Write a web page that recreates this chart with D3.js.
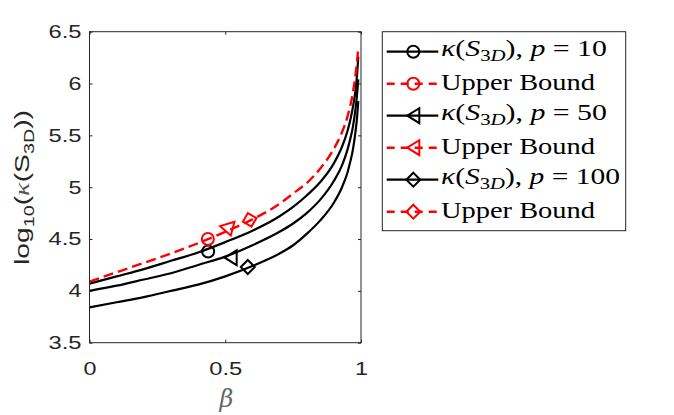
<!DOCTYPE html>
<html>
<head>
<meta charset="utf-8">
<script src="https://cdn.jsdelivr.net/npm/d3@7"></script>
<style>
  body { margin: 0; background: #fff; }
  svg { display: block; }
</style>
</head>
<body>
<div id="chart"></div>
<script>
// values
const beta = [0, 0.1, 0.2, 0.3, 0.4, 0.5, 0.6, 0.7, 0.75, 0.8, 0.85, 0.9, 0.93, 0.95, 0.96, 0.97, 0.98, 0.985, 0.99];
const kappaP10 = [4.07, 4.14, 4.21, 4.29, 4.37, 4.47, 4.58, 4.72, 4.81, 4.92, 5.05, 5.23, 5.39, 5.54, 5.64, 5.77, 5.94, 6.07, 6.26];
const kappaP50 = [4.00, 4.05, 4.11, 4.17, 4.25, 4.33, 4.44, 4.57, 4.65, 4.75, 4.88, 5.06, 5.21, 5.36, 5.46, 5.58, 5.76, 5.88, 6.04];
const kappaP100 = [3.84, 3.89, 3.94, 4.00, 4.06, 4.14, 4.24, 4.36, 4.44, 4.55, 4.68, 4.85, 5.00, 5.14, 5.24, 5.36, 5.54, 5.66, 5.83];
const upperBound = [4.09, 4.18, 4.27, 4.36, 4.46, 4.57, 4.69, 4.84, 4.94, 5.04, 5.18, 5.37, 5.53, 5.68, 5.78, 5.91, 6.09, 6.20, 6.35];

// the single marker drawn on each curve
const markerShapes = ['circle', 'left', 'diamond'];
const kappaMarkerBeta = [0.437, 0.52, 0.583];
const kappaMarkerValue = [4.38, 4.32, 4.23];
const boundMarkerBeta = [0.436, 0.514, 0.59];
const boundMarkerValue = [4.50, 4.59, 4.685];
const boundMarkerTurn = [0, -107, -15];

const xTicks = [0, 0.5, 1];
const yTicks = [3.5, 4, 4.5, 5, 5.5, 6, 6.5];
const pValues = [10, 50, 100];

const W = 674, H = 415;
const axisColor = '#262626';

let svg = d3.select('#chart').append('svg')
    .attr('width', W)
    .attr('height', H);

svg.append('rect').attr('width', W).attr('height', H).attr('fill', '#fff');

let x = d3.scaleLinear().domain([0, 1]).range([89.5, 361]);
let y = d3.scaleLinear().domain([3.5, 6.5]).range([342.7, 31.7]);

let plot = svg.append('g');

let line = d3.line()
    .x(d => x(d[0]))
    .y(d => y(d[1]))
    .curve(d3.curveMonotoneX);

[kappaP10, kappaP50, kappaP100].forEach(vals => {
    plot.append('path')
        .datum(beta.map((b, i) => [b, vals[i]]))
        .attr('d', line)
        .attr('fill', 'none')
        .attr('stroke', '#000')
        .attr('stroke-width', 2.2);
});

plot.append('path')
    .datum(beta.map((b, i) => [b, upperBound[i]]))
    .attr('d', line)
    .attr('fill', 'none')
    .attr('stroke', '#ff0000')
    .attr('stroke-width', 2.4)
    .attr('stroke-dasharray', '10,5');

function markerPath (shape) {
    if (shape == 'circle') return d3.symbol(d3.symbolCircle, Math.PI * 36)();
    if (shape == 'left') return 'M-6,0L6,-7.5L6,7.5Z';
    return 'M0,-7L7,0L0,7L-7,0Z';
}

markerShapes.forEach((shape, i) => {
    plot.append('path')
        .attr('d', markerPath(shape))
        .attr('transform', 'translate(' + x(kappaMarkerBeta[i]) + ',' + y(kappaMarkerValue[i]) + ')')
        .attr('fill', 'none')
        .attr('stroke', '#000')
        .attr('stroke-width', 2);
    plot.append('path')
        .attr('d', markerPath(shape))
        .attr('transform', 'translate(' + x(boundMarkerBeta[i]) + ',' + y(boundMarkerValue[i]) + ') rotate(' + boundMarkerTurn[i] + ')')
        .attr('fill', 'none')
        .attr('stroke', '#ff0000')
        .attr('stroke-width', 2);
});

// axes, ticks pointing inwards on all four sides
function styleAxis (g) {
    g.select('.domain').remove();
    g.selectAll('line').attr('stroke', axisColor);
    g.selectAll('text')
        .attr('fill', axisColor)
        .attr('font-family', 'Liberation Sans, Arial, sans-serif')
        .attr('font-size', 18.5)
        .each(function () {
            // the reference glyphs come out wider than Arial
            let n = this.textContent.length;
            if (n > 0)
                d3.select(this).attr('textLength', n > 1 ? 33 : 13).attr('lengthAdjust', 'spacingAndGlyphs');
        });
}

svg.append('g')
    .attr('transform', 'translate(0,' + y(3.5) + ')')
    .call(d3.axisBottom(x).tickValues(xTicks).tickFormat(d3.format('')).tickSizeInner(-3).tickSizeOuter(0).tickPadding(19))
    .call(styleAxis);

svg.append('g')
    .attr('transform', 'translate(' + x(0) + ',0)')
    .call(d3.axisLeft(y).tickValues(yTicks).tickFormat(d3.format('')).tickSizeInner(-3).tickSizeOuter(0).tickPadding(8))
    .call(styleAxis);

svg.append('g')
    .attr('transform', 'translate(0,' + y(6.5) + ')')
    .call(d3.axisTop(x).tickValues(xTicks).tickFormat('').tickSizeInner(-3).tickSizeOuter(0))
    .call(styleAxis);

svg.append('g')
    .attr('transform', 'translate(' + x(1) + ',0)')
    .call(d3.axisRight(y).tickValues(yTicks).tickFormat('').tickSizeInner(-3).tickSizeOuter(0))
    .call(styleAxis);

svg.append('rect')
    .attr('x', x(0))
    .attr('y', y(6.5))
    .attr('width', x(1) - x(0))
    .attr('height', y(3.5) - y(6.5))
    .attr('fill', 'none')
    .attr('stroke', axisColor)
    .attr('stroke-width', 1);

// axis labels
svg.append('text')
    .attr('x', 226.5)
    .attr('y', 407)
    .attr('text-anchor', 'middle')
    .attr('font-family', 'DejaVu Serif, serif')
    .attr('font-style', 'italic')
    .attr('font-size', 24)
    .attr('fill', '#666')
    .text('β');

let ylab = svg.append('text')
    .attr('transform', 'translate(29,265) rotate(-90)')
    .attr('font-family', 'Liberation Sans, Arial, sans-serif')
    .attr('font-size', 20)
    .attr('fill', axisColor)
    .attr('textLength', 155)
    .attr('lengthAdjust', 'spacingAndGlyphs');
ylab.append('tspan').text('log');
ylab.append('tspan').attr('font-size', 14).attr('dy', 5).text('10');
ylab.append('tspan').attr('dy', -5).text('(');
ylab.append('tspan').attr('font-style', 'italic').attr('font-family', 'Liberation Serif, serif').attr('fill', '#555').text('κ');
ylab.append('tspan').text('(S');
ylab.append('tspan').attr('font-size', 14).attr('dy', 5).text('3D');
ylab.append('tspan').attr('dy', -5).text('))');

// legend
let legend = svg.append('g');
legend.append('rect')
    .attr('x', 382.3)
    .attr('y', 31.7)
    .attr('width', 243.4)
    .attr('height', 199)
    .attr('fill', '#fff')
    .attr('stroke', axisColor)
    .attr('stroke-width', 1);

const legendFont = 'Liberation Serif, Times New Roman, serif';

pValues.forEach((p, i) => {
    let cyK = 51.7 + i * 64;
    let cyB = cyK + 32;

    legend.append('line')
        .attr('x1', 386.7).attr('x2', 438.3)
        .attr('y1', cyK).attr('y2', cyK)
        .attr('stroke', '#000').attr('stroke-width', 2.2);
    legend.append('path')
        .attr('d', markerPath(markerShapes[i]))
        .attr('transform', 'translate(413.3,' + cyK + ')')
        .attr('fill', 'none').attr('stroke', '#000').attr('stroke-width', 2);

    legend.append('line')
        .attr('x1', 386.7).attr('x2', 438.3)
        .attr('y1', cyB).attr('y2', cyB)
        .attr('stroke', '#ff0000').attr('stroke-width', 2.4)
        .attr('stroke-dasharray', '8,6');
    legend.append('path')
        .attr('d', markerPath(markerShapes[i]))
        .attr('transform', 'translate(413.3,' + cyB + ')')
        .attr('fill', 'none').attr('stroke', '#ff0000').attr('stroke-width', 2);

    let t = legend.append('text')
        .attr('x', 441)
        .attr('y', cyK + 4)
        .attr('font-family', legendFont)
        .attr('font-size', 23)
        .attr('fill', '#000')
        .attr('textLength', p == 100 ? 179 : 166)
        .attr('lengthAdjust', 'spacingAndGlyphs');
    t.append('tspan').attr('font-style', 'italic').text('κ');
    t.append('tspan').text('(');
    t.append('tspan').attr('font-style', 'italic').text('S');
    t.append('tspan').attr('font-size', 16).attr('dy', 5).text('3');
    t.append('tspan').attr('font-size', 16).attr('font-style', 'italic').text('D');
    t.append('tspan').attr('dy', -5).text('),');
    t.append('tspan').attr('font-style', 'italic').text(' p');
    t.append('tspan').text(' = ' + p);

    legend.append('text')
        .attr('x', 441)
        .attr('y', cyB + 6.6)
        .attr('font-family', legendFont)
        .attr('font-size', 23)
        .attr('fill', '#000')
        .attr('textLength', 154)
        .attr('lengthAdjust', 'spacingAndGlyphs')
        .text('Upper Bound');
});
</script>
</body>
</html>
